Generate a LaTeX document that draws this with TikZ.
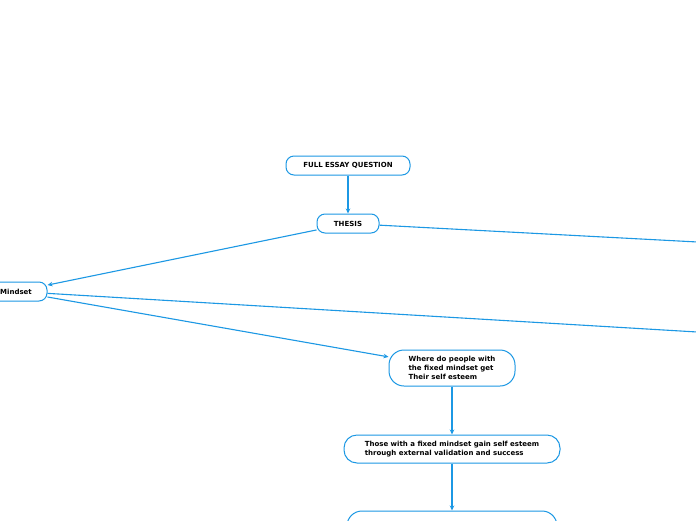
\documentclass[tikz,border=0pt]{standalone}
\usepackage{fontspec}
\setmainfont{DejaVu Sans}
\usetikzlibrary{arrows.meta}
\definecolor{lineblue}{RGB}{28,152,228}
\tikzset{
  topic/.style={draw=lineblue, line width=1pt, rounded corners=8pt, fill=white,
    font=\fontsize{7}{9}\selectfont\bfseries, text=black, inner sep=0pt, align=left},
  conn/.style={draw=lineblue, line width=1.1pt, -{Stealth[length=5pt,width=4.5pt]}}
}
\begin{document}
\begin{tikzpicture}[x=1pt,y=-1pt]
\useasboundingbox (0,0) rectangle (696,520);
\clip (0,0) rectangle (696,520);
\fill[white] (0,0) rectangle (696,520);
\node[topic, minimum width=124pt, minimum height=19pt] (feq) at (348,165.5) {FULL ESSAY QUESTION};
\node[topic, minimum width=62pt, minimum height=19pt] (thesis) at (348,223.5) {THESIS};
\node[topic, minimum width=62pt, minimum height=19pt] (mindset) at (16,291.5) {Mindset};
\node[topic, rounded corners=15pt, minimum width=126pt, minimum height=36pt] (where) at (452,368) {Where do people with\\the fixed mindset get\\Their self esteem};
\node[topic, rounded corners=13pt, minimum width=216pt, minimum height=28pt] (those) at (452,449) {Those with a fixed mindset gain self esteem\\through external validation and success};
\node[topic, rounded corners=15pt, minimum width=210pt, minimum height=36pt] (next) at (452,529) {};
\coordinate (offA) at (1000,258);
\coordinate (offB) at (1000,350);
\draw[conn] (feq) -- (thesis);
\draw[conn] (thesis) -- (mindset);
\draw[conn] (thesis) -- (offA);
\draw[conn] (mindset) -- (offB);
\draw[conn] (mindset) -- (where);
\draw[conn] (where) -- (those);
\draw[conn] (those) -- (next);
\end{tikzpicture}
\end{document}
